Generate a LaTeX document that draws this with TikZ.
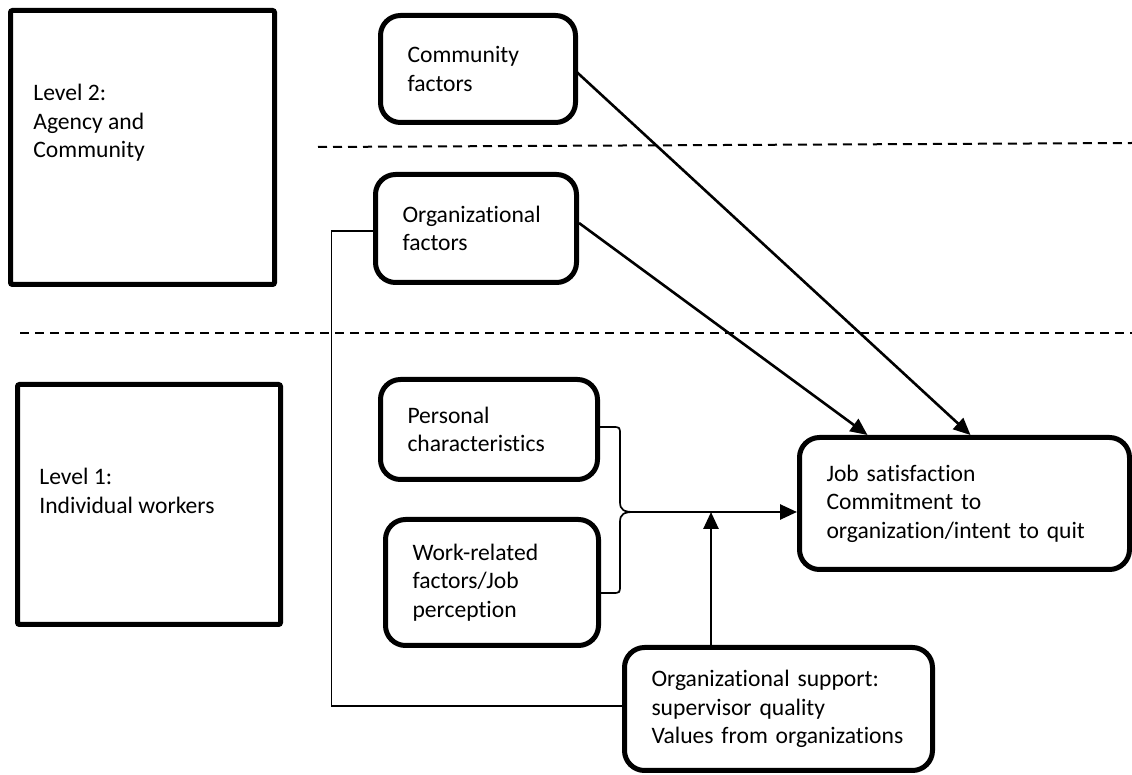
\documentclass[tikz,border=0pt]{standalone}
\usepackage{fontspec}
\setmainfont[Ligatures=NoCommon]{Carlito}
\usetikzlibrary{arrows.meta}
\tikzset{>=Latex, line/.style={line width=1.3pt}, thinline/.style={line width=0.85pt},
arr/.style={line, -{Triangle[length=8.5pt,width=7.5pt]}},
sep/.style={line width=1pt, dash pattern=on 4.5pt off 3pt},
level/.style={draw, line width=2.5pt, rounded corners=1pt, inner sep=0pt},
box/.style={draw, line width=2.5pt, rounded corners=10pt, align=left, inner xsep=13.5pt, inner ysep=0pt},
note/.style={align=left, inner sep=0pt, anchor=west}}

\begin{document}
\begin{tikzpicture}[x=0.5pt, y=-0.5pt, font=\fontsize{11.8}{14.2}\selectfont]
\useasboundingbox (0,0) rectangle (1132,775);
% Levels
\node[level, minimum width=132pt, minimum height=137pt] (lvtwo) at (142.5,147.5) {};
\node[note] (lvtwotxt) at (33,123) {Level 2:\\ Agency and\\ Community};
\node[level, minimum width=131.5pt, minimum height=120pt] (lvone) at (149,504.5) {};
\node[note] (lvonetxt) at (39,491) {Level 1:\\ Individual workers};

% Separators
\draw[sep] (318,147) -- (1132,143);
\draw[sep] (20,333) -- (1132,333);

% Boxes
\node[box, minimum width=97.5pt, minimum height=53.5pt, text width=70.5pt] (comm) at (478,69) {Community\\ factors};
\node[box, minimum width=100.5pt, minimum height=54pt, text width=73.5pt] (orgf) at (476,228.5) {Organizational\\ factors};
\node[box, minimum width=108.5pt, minimum height=50pt, text width=81.5pt] (pers) at (489,429.5) {Personal\\ characteristics};
\node[box, minimum width=106.5pt, minimum height=63pt, text width=79.5pt] (work) at (492,582.5) {Work-related\\ factors/Job\\ perception};
\node[box, minimum width=165pt, minimum height=66pt, text width=138pt] (job) at (964.5,503.5) {Job satisfaction\\ Commitment to\\ organization/intent to quit};
\node[box, minimum width=154pt, minimum height=61.5pt, text width=127pt] (supp) at (778.5,709) {Organizational support:\\ supervisor quality\\ Values from organizations};

% Arrows to outcome
\draw[arr] ([xshift=-1.75pt,yshift=-0.5pt]comm.east) -- ([xshift=86.75pt]job.north west);
\draw[arr] ([yshift=2.75pt]orgf.east) -- ([xshift=35.25pt]job.north west);

% Brace and moderator
\coordinate (tip) at (634,512);
\coordinate (jn) at (711,512);
\draw[thinline] ([yshift=1.25pt]pers.east) -- (612,427) .. controls (620,427) .. (620,435) -- (620,502)
  .. controls (620,510) and (624,512) .. (tip) .. controls (624,512) and (620,514) .. (620,522)
  -- (620,585) .. controls (620,593) .. (612,593) -- ([yshift=-5.25pt]work.east);
\draw[arr] (tip) -- (tip -| job.west);
\draw[arr] (jn |- supp.north) -- (jn);
\draw[thinline] ([yshift=-1.25pt]orgf.west) -- ++(-20.75pt,0) |- ([yshift=1.5pt]supp.west);
\end{tikzpicture}
\end{document}
